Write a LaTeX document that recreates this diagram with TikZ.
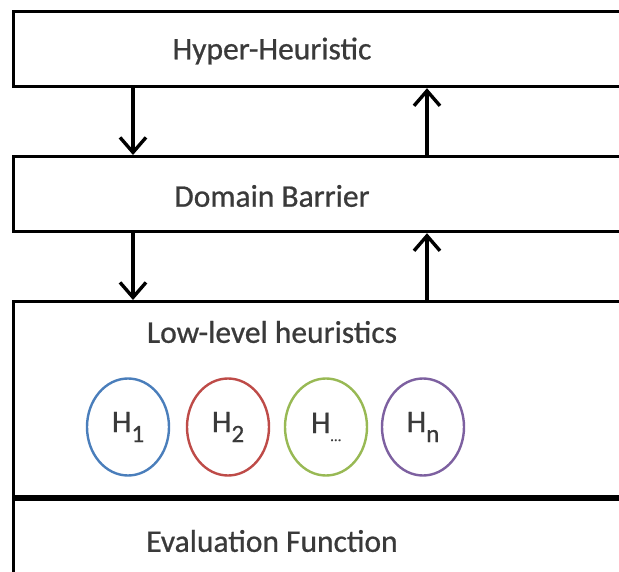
\documentclass[tikz,border=0pt]{standalone}
\usepackage{fontspec}
\setmainfont{Carlito}[FakeBold=0.7]
\usetikzlibrary{arrows.meta,calc,shapes.geometric}
\definecolor{txtgray}{HTML}{3A3A3A}
\definecolor{hblue}{HTML}{4A7EBB}
\definecolor{hred}{HTML}{BE4B48}
\definecolor{hgreen}{HTML}{98B954}
\definecolor{hpurple}{HTML}{7D60A0}
\newcommand{\hsub}[1]{\raisebox{-10pt}{\fontsize{25}{25}\selectfont #1}}
\tikzset{
  layer/.style={draw=black, line width=3.2pt, fill=white, rectangle, inner sep=0pt, minimum width=640pt},
  lbl/.style={text=txtgray, font=\fontsize{31.5}{36}\selectfont, inner sep=0pt},
  arr/.style={line width=3.4pt, -{Straight Barb[length=15pt, width=26pt, line width=3.4pt]}},
  heur/.style={ellipse, line width=2.4pt, minimum width=82pt, minimum height=97pt, inner sep=0pt, text=txtgray, font=\fontsize{31.5}{36}\selectfont},
}
\begin{document}
\begin{tikzpicture}[x=1pt,y=-1pt]
\useasboundingbox (0,0) rectangle (619,572);
\clip (0,0) rectangle (619,572);
\fill[white] (0,0) rectangle (619,572);
% boxes (left edge at x=12, extend past right border)
\node[layer, anchor=north west, minimum height=75pt] (hh) at (12,10) {};
\node[layer, anchor=north west, minimum height=75pt] (db) at (12,155) {};
\node[layer, anchor=north west, minimum height=198pt] (ll) at (12,300) {};
\node[layer, anchor=north west, minimum height=100pt] (ev) at (12,498) {};
\draw[line width=6pt] (ev.north west) -- (ev.north east);
% texts
\node[lbl] (thh) at (272,51) {Hyper-Heuristic};
\node[lbl] (tdb) at (272,196) {Domain Barrier};
\node[lbl] (tll) at (272,332) {Low-level heuristics};
\node[lbl] (tev) at (272,541) {Evaluation Function};
% arrows
\draw[arr] ($(hh.south west)+(121,0)$) -- ($(db.north west)+(121,0)$);
\draw[arr] ($(db.north west)+(415,0)$) -- ($(hh.south west)+(415,0)$);
\draw[arr] ($(db.south west)+(121,0)$) -- ($(ll.north west)+(121,0)$);
\draw[arr] ($(ll.north west)+(415,0)$) -- ($(db.south west)+(415,0)$);
% heuristics
\node[heur, draw=hblue] (h1) at (128,427) {H\hsub{1}};
\node[heur, draw=hred] (h2) at (228,427) {H\hsub{2}};
\node[heur, draw=hgreen] (h3) at (326,427) {H\raisebox{-8pt}{\fontsize{15}{15}\selectfont …}};
\node[heur, draw=hpurple] (hn) at (423,427) {H\hsub{n}};
\end{tikzpicture}
\end{document}
